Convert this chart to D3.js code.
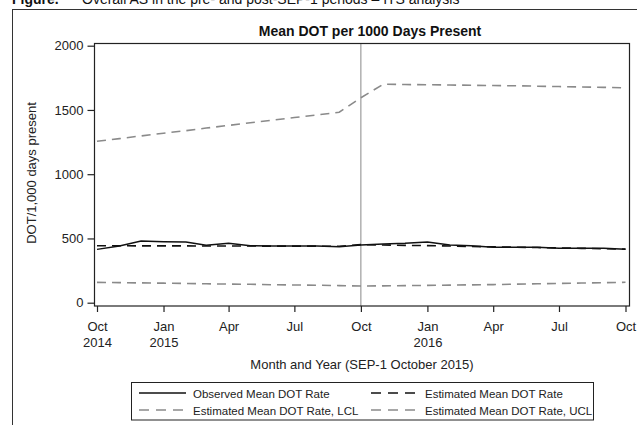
<!DOCTYPE html>
<html>
<head>
<meta charset="utf-8">
<script src="https://cdn.jsdelivr.net/npm/d3@7"></script>
<style>
  body { margin: 0; background: #fff; }
  svg { display: block; font-family: "Liberation Sans", Arial, sans-serif; }
  .tick text { font-size: 13px; fill: #222; }
</style>
</head>
<body>
<div class="chart"></div>
<script>
// monthly points, Oct 2014 .. Oct 2016
const months = ["2014-10","2014-11","2014-12","2015-01","2015-02","2015-03","2015-04","2015-05","2015-06",
  "2015-07","2015-08","2015-09","2015-10","2015-11","2015-12","2016-01","2016-02","2016-03","2016-04",
  "2016-05","2016-06","2016-07","2016-08","2016-09","2016-10"];

const observed = [415, 441, 480, 475, 472, 447, 462, 444, 441, 441, 441, 436,
  449, 457, 462, 472, 449, 444, 431, 431, 431, 423, 423, 423, 415];
const estimated = [443, 443, 442, 442, 442, 441, 441, 441, 440, 440, 440, 439,
  452, 449, 446, 444, 441, 438, 435, 432, 429, 426, 423, 420, 417];
const lcl = [158, 156, 154, 152, 150, 147, 145, 143, 140, 138, 136, 133,
  130, 131, 133, 135, 137, 139, 141, 144, 147, 150, 153, 156, 159];
const ucl = [1256, 1277, 1298, 1319, 1339, 1359, 1380, 1400, 1421, 1441, 1461, 1482,
  1595, 1700, 1698, 1696, 1694, 1692, 1690, 1688, 1685, 1682, 1679, 1676, 1672];

const yTicks = [0, 500, 1000, 1500, 2000];
const xTicks = ["2014-10","2015-01","2015-04","2015-07","2015-10","2016-01","2016-04","2016-07","2016-10"];
const xTickLines = [["Oct","2014"],["Jan","2015"],["Apr",""],["Jul",""],["Oct",""],["Jan","2016"],["Apr",""],["Jul",""],["Oct",""]];
const interventionMonth = "2015-10";

const legendItems = [
  {name: "Observed Mean DOT Rate", color: "#111", dash: null},
  {name: "Estimated Mean DOT Rate", color: "#111", dash: "9,6"},
  {name: "Estimated Mean DOT Rate, LCL", color: "#8a8a8a", dash: "9,6"},
  {name: "Estimated Mean DOT Rate, UCL", color: "#8a8a8a", dash: "9,6"}
];

const parse = d3.timeParse("%Y-%m");
const dates = months.map(parse);

const width = 637, height = 425;
const frame = {left: 94.5, right: 629.5, top: 43.5, bottom: 306};

const x = d3.scaleTime().domain([parse("2014-10"), parse("2016-10")]).range([97, 625.5]);
const y = d3.scaleLinear().domain([0, 2000]).range([302.7, 45.7]);

const svg = d3.select(".chart").append("svg")
    .attr("width", width)
    .attr("height", height);

// caption (cut off at the top of the page, as in the source)
svg.append("text")
    .attr("x", 12).attr("y", 4)
    .style("font-size", "14px").style("font-weight", "bold").attr("fill", "#111")
    .text("Figure.");
svg.append("text")
    .attr("x", 82).attr("y", 4)
    .style("font-size", "14px").attr("fill", "#111")
    .text("Overall AS in the pre- and post-SEP-1 periods \u2013 ITS analysis");

// outer figure border
svg.append("rect")
    .attr("x", 12.5).attr("y", 9.5)
    .attr("width", 640).attr("height", 430)
    .attr("fill", "none").attr("stroke", "#333").attr("stroke-width", 1);

svg.append("text")
    .attr("x", 370).attr("y", 36)
    .attr("text-anchor", "middle")
    .style("font-size", "14px").style("font-weight", "bold").attr("fill", "#111")
    .text("Mean DOT per 1000 Days Present");

// intervention reference line
svg.append("line")
    .attr("x1", x(parse(interventionMonth))).attr("x2", x(parse(interventionMonth)))
    .attr("y1", frame.top).attr("y2", frame.bottom)
    .attr("stroke", "#888").attr("stroke-width", 1);

const line = d3.line()
    .x((d, i) => x(dates[i]))
    .y((d) => y(d));

const series = [
  {values: lcl, color: "#8a8a8a", dash: "9,6", w: 1.6},
  {values: ucl, color: "#8a8a8a", dash: "9,6", w: 1.6},
  {values: observed, color: "#111", dash: null, w: 1.5},
  {values: estimated, color: "#111", dash: "9,6", w: 1.6}
];

series.forEach((s) => {
  svg.append("path")
      .datum(s.values)
      .attr("d", line)
      .attr("fill", "none")
      .attr("stroke", s.color)
      .attr("stroke-width", s.w)
      .attr("stroke-dasharray", s.dash);
});

// plot border
svg.append("rect")
    .attr("x", frame.left).attr("y", frame.top)
    .attr("width", frame.right - frame.left).attr("height", frame.bottom - frame.top)
    .attr("fill", "none").attr("stroke", "#222").attr("stroke-width", 1.2);

// y axis
const yAxis = svg.append("g")
    .attr("transform", "translate(" + frame.left + ",0)")
    .call(d3.axisLeft(y).tickValues(yTicks).tickSize(7).tickPadding(4).tickFormat(d3.format("d")));
yAxis.select(".domain").remove();
yAxis.selectAll(".tick line").attr("stroke", "#222").attr("stroke-width", 1.2);

// x axis
const xAxis = svg.append("g")
    .attr("transform", "translate(0," + frame.bottom + ")")
    .call(d3.axisBottom(x).tickValues(xTicks.map(parse)).tickSize(6).tickFormat(""));
xAxis.select(".domain").remove();
xAxis.selectAll(".tick line").attr("stroke", "#222").attr("stroke-width", 1.2);
xAxis.selectAll(".tick text").remove();
xAxis.selectAll(".tick").each(function(d, i) {
  const t = d3.select(this).append("text")
      .attr("text-anchor", "middle")
      .attr("fill", "#222")
      .style("font-size", "13px");
  t.append("tspan").attr("x", 0).attr("y", 25).text(xTickLines[i][0]);
  t.append("tspan").attr("x", 0).attr("y", 41).text(xTickLines[i][1]);
});

svg.append("text")
    .attr("x", 362).attr("y", 369)
    .attr("text-anchor", "middle")
    .style("font-size", "13px").attr("fill", "#222")
    .text("Month and Year (SEP-1 October 2015)");

svg.append("text")
    .attr("transform", "translate(36,173) rotate(-90)")
    .attr("text-anchor", "middle")
    .style("font-size", "13px").attr("fill", "#222")
    .text("DOT/1,000 days present");

// legend
const legend = svg.append("g");
legend.append("rect")
    .attr("x", 131.5).attr("y", 382.5)
    .attr("width", 462).attr("height", 37.5)
    .attr("fill", "none").attr("stroke", "#222").attr("stroke-width", 1);

const colX = [139, 371];
const rowY = [393, 410];
legendItems.forEach((item, i) => {
  const cx = colX[i % 2], cy = rowY[Math.floor(i / 2)];
  legend.append("line")
      .attr("x1", cx).attr("x2", cx + 47)
      .attr("y1", cy).attr("y2", cy)
      .attr("stroke", item.color).attr("stroke-width", 1.6)
      .attr("stroke-dasharray", item.dash ? "10,7" : null);
  legend.append("text")
      .attr("x", cx + 54).attr("y", cy + 4.5)
      .style("font-size", "11.5px").attr("fill", "#222")
      .text(item.name);
});
</script>
</body>
</html>
